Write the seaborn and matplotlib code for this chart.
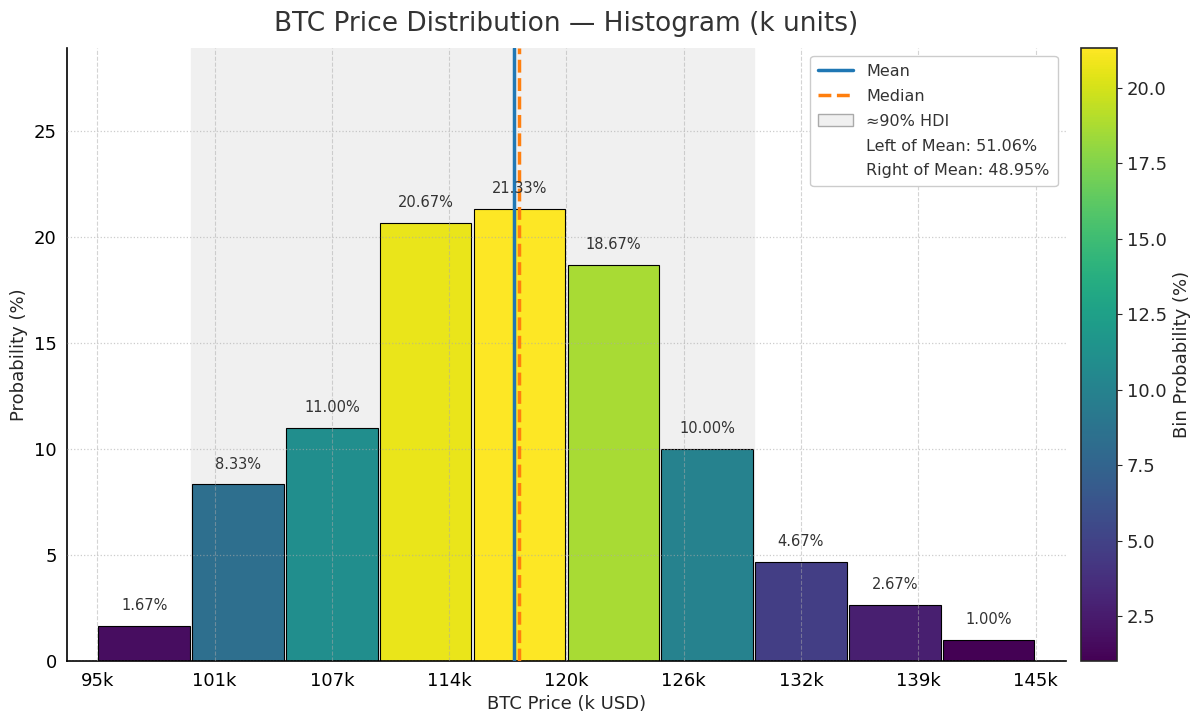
import numpy as np
import matplotlib
matplotlib.use("Agg")
import matplotlib.pyplot as plt
from matplotlib.patches import Patch
from matplotlib.lines import Line2D
import seaborn as sns

# bin data (k USD) and probabilities (%)
bin_edges = [95, 100, 105, 110, 115, 120, 125, 130, 135, 140, 145]
bin_centers = [97.5, 102.5, 107.5, 112.5, 117.5, 122.5, 127.5, 132.5, 137.5, 142.5]
probs = [1.67, 8.33, 11.00, 20.67, 21.33, 18.67, 10.00, 4.67, 2.67, 1.00]
tick_pos = [95, 101.25, 107.5, 113.75, 120, 126.25, 132.5, 138.75, 145]
tick_labels = ['95k', '101k', '107k', '114k', '120k', '126k', '132k', '139k', '145k']
mean_price = 117.2
median_price = 117.5
hdi_low, hdi_high = 100, 130
left_pct, right_pct = 51.06, 48.95

sns.set_style('white')
plt.rcParams['font.family'] = ['DejaVu Sans']

fig = plt.figure(figsize=(12, 7.25), dpi=100)
ax = fig.add_axes([0.056, 0.088, 0.832, 0.846])
cax = fig.add_axes([0.901, 0.088, 0.030, 0.846])

sns.histplot(x=bin_centers, weights=probs, bins=bin_edges, shrink=0.975,
             ax=ax, edgecolor='black', linewidth=0.8, alpha=1, zorder=2)
bars = list(ax.patches)

norm = matplotlib.colors.Normalize(vmin=min(probs), vmax=max(probs))
cmap = plt.get_cmap('viridis')
for patch, p in zip(bars, probs):
    patch.set_facecolor(cmap(norm(p)))
    patch.set_alpha(1)

ax.axvspan(hdi_low, hdi_high, color='#f0f0f0', zorder=0)

for c, p in zip(bin_centers, probs):
    ax.text(c, p + 0.6, f'{p:.2f}%', ha='center', va='bottom', fontsize=10.5,
            color='#333333', zorder=5)

ax.axvline(mean_price, color='#1f77b4', lw=2.5, zorder=4)
ax.axvline(median_price, color='#ff7f0e', lw=2.5, ls='--', zorder=4)

ax.set_xlim(93.4, 146.6)
ax.set_ylim(0, 28.9)
ax.set_xticks(tick_pos)
ax.set_xticklabels(tick_labels)
ax.set_yticks([0, 5, 10, 15, 20, 25])
ax.tick_params(axis='both', labelsize=13, direction='out', length=4, colors='black')
ax.grid(True, axis='x', ls='--', lw=0.8, color='#aaaaaa', alpha=0.5, zorder=3)
ax.grid(True, axis='y', ls=':', lw=0.9, color='#aaaaaa', alpha=0.6, zorder=3)
ax.set_axisbelow(False)
for s in ['top', 'right']:
    ax.spines[s].set_visible(False)
for s in ['left', 'bottom']:
    ax.spines[s].set_color('black')
    ax.spines[s].set_linewidth(1.2)

ax.set_xlabel('BTC Price (k USD)', fontsize=13)
ax.set_ylabel('Probability (%)', fontsize=13)
ax.set_title('BTC Price Distribution \u2014 Histogram (k units)', fontsize=19,
             color='#333333', pad=12)

handles = [
    Line2D([0], [0], color='#1f77b4', lw=2.5),
    Line2D([0], [0], color='#ff7f0e', lw=2.5, ls='--'),
    Patch(facecolor='#f0f0f0', edgecolor='#aaaaaa'),
    Line2D([], [], color='none'),
    Line2D([], [], color='none'),
]
labels = ['Mean', 'Median', '\u224890% HDI',
          f'Left of Mean: {left_pct:.2f}%', f'Right of Mean: {right_pct:.2f}%']
leg = ax.legend(handles, labels, loc='upper right', fontsize=11.5, frameon=True,
                framealpha=1, edgecolor='#cccccc', handlelength=2.2, borderpad=0.5,
                labelspacing=0.62)
for t in leg.get_texts():
    t.set_color('#333333')

sm = matplotlib.cm.ScalarMappable(norm=norm, cmap=cmap)
cb = fig.colorbar(sm, cax=cax)
cb.set_label('Bin Probability (%)', fontsize=13)
cb.ax.tick_params(labelsize=13)
cb.outline.set_linewidth(1.2)

fig.savefig('out.png', dpi=100)
